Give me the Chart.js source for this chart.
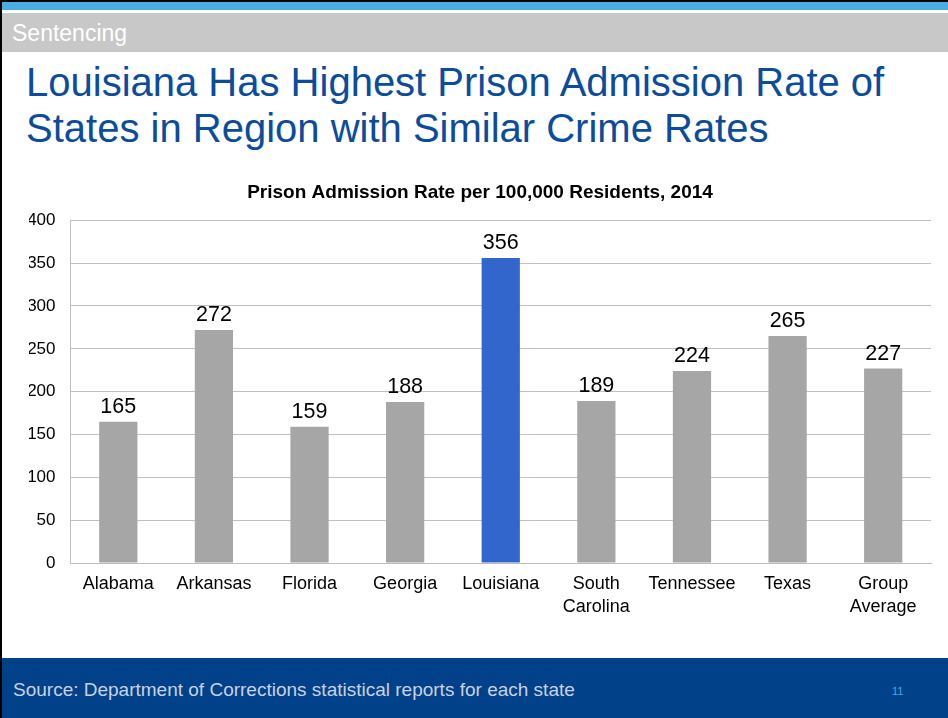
<!DOCTYPE html>
<html>
<head>
<meta charset="utf-8">
<script src="https://cdn.jsdelivr.net/npm/chart.js@4"></script>
<style>
  html, body { margin: 0; padding: 0; }
  body { width: 948px; height: 718px; position: relative; overflow: hidden; background: #fff;
         font-family: "Liberation Sans", Arial, sans-serif; }
  .edge { position: absolute; left: 0; top: 0; width: 2px; height: 718px; background: #000; }
  .topline { position: absolute; left: 0; top: 0; width: 948px; height: 2px; background: #000; }
  .blueband { position: absolute; left: 2px; top: 2px; width: 946px; height: 8px; background: #4aaee3; }
  .grayband { position: absolute; left: 2px; top: 13px; width: 946px; height: 39px; background: #c8c8c8; }
  .section { position: absolute; left: 12px; top: 22px; font-size: 23px; line-height: 23px; color: #fff; }
  .headline { position: absolute; left: 26px; top: 59px; font-size: 40px; line-height: 46px; color: #0c4c9c; white-space: nowrap; }
  .footer { position: absolute; left: 2px; top: 658px; width: 946px; height: 60px; background: #00418a; }
  .source { position: absolute; left: 11px; top: 23px; font-size: 19px; line-height: 18px; color: #c9d2e2; white-space: nowrap; }
  .pagenum { position: absolute; left: 890px; top: 28px; font-size: 11px; line-height: 11px; color: #4ea6e2; }
  .chartbox { position: absolute; left: 2px; top: 172px; width: 946px; height: 468px; }
</style>
</head>
<body>
<div class="topline"></div>
<div class="blueband"></div>
<div class="grayband"></div>
<div class="section">Sentencing</div>
<div class="headline">Louisiana Has Highest Prison Admission Rate of<br>States in Region with Similar Crime Rates</div>
<div class="chartbox"><canvas id="chart" width="946" height="468"></canvas></div>
<div class="footer">
  <div class="source">Source: Department of Corrections statistical reports for each state</div>
  <div class="pagenum">11</div>
</div>
<div class="edge"></div>
<script>
// Prison admissions per 100,000 residents, 2014
const states = ["Alabama", "Arkansas", "Florida", "Georgia", "Louisiana", ["South", "Carolina"], "Tennessee", "Texas", ["Group", "Average"]];
const admissionRates = [165, 272, 159, 188, 356, 189, 224, 265, 227];
const yTicks = [0, 50, 100, 150, 200, 250, 300, 350, 400];
const highlighted = "Louisiana";

const barColors = states.map(s => s === highlighted ? "#3366cc" : "#a6a6a6");
const FONT = "'Liberation Sans', Arial, sans-serif";

// Writes each bar's value just above it
const valueLabels = {
  id: "valueLabels",
  afterDatasetsDraw(chart) {
    const ctx = chart.ctx;
    const meta = chart.getDatasetMeta(0);
    ctx.save();
    ctx.font = "21.5px " + FONT;
    ctx.fillStyle = "#000";
    ctx.textAlign = "center";
    ctx.textBaseline = "alphabetic";
    meta.data.forEach((bar, i) => {
      ctx.fillText(String(admissionRates[i]), bar.x, bar.y - 9);
    });
    ctx.restore();
  }
};

new Chart(document.getElementById("chart"), {
  type: "bar",
  data: {
    labels: states,
    datasets: [{
      data: admissionRates,
      backgroundColor: barColors,
      borderWidth: 0,
      categoryPercentage: 1,
      barPercentage: 0.4
    }]
  },
  options: {
    responsive: false,
    animation: false,
    layout: { padding: { left: 27, right: 17, top: 0, bottom: 0 } },
    plugins: {
      legend: { display: false },
      tooltip: { enabled: false },
      title: {
        display: true,
        text: "Prison Admission Rate per 100,000 Residents, 2014",
        color: "#000",
        font: { family: FONT, size: 19, weight: "bold", lineHeight: 1.2 },
        padding: { top: 9, bottom: 16.5 }
      }
    },
    scales: {
      x: {
        grid: { display: false, drawTicks: false },
        border: { display: true, color: "#bdbdbd", width: 1 },
        ticks: {
          color: "#000",
          font: { family: FONT, size: 18, lineHeight: 1.25 },
          padding: 10,
          maxRotation: 0,
          autoSkip: false
        },
        afterFit(scale) { scale.height = 77; }
      },
      y: {
        min: 0,
        max: 400,
        afterBuildTicks(scale) { scale.ticks = yTicks.map(v => ({ value: v })); },
        grid: { color: "#c0c0c0", lineWidth: 1, drawTicks: false },
        border: { display: true, color: "#c0c0c0", width: 1 },
        ticks: {
          color: "#000",
          font: { family: FONT, size: 17 },
          padding: 15
        },
        afterFit(scale) { scale.width = 41.5; }
      }
    }
  },
  plugins: [valueLabels]
});
</script>
</body>
</html>
